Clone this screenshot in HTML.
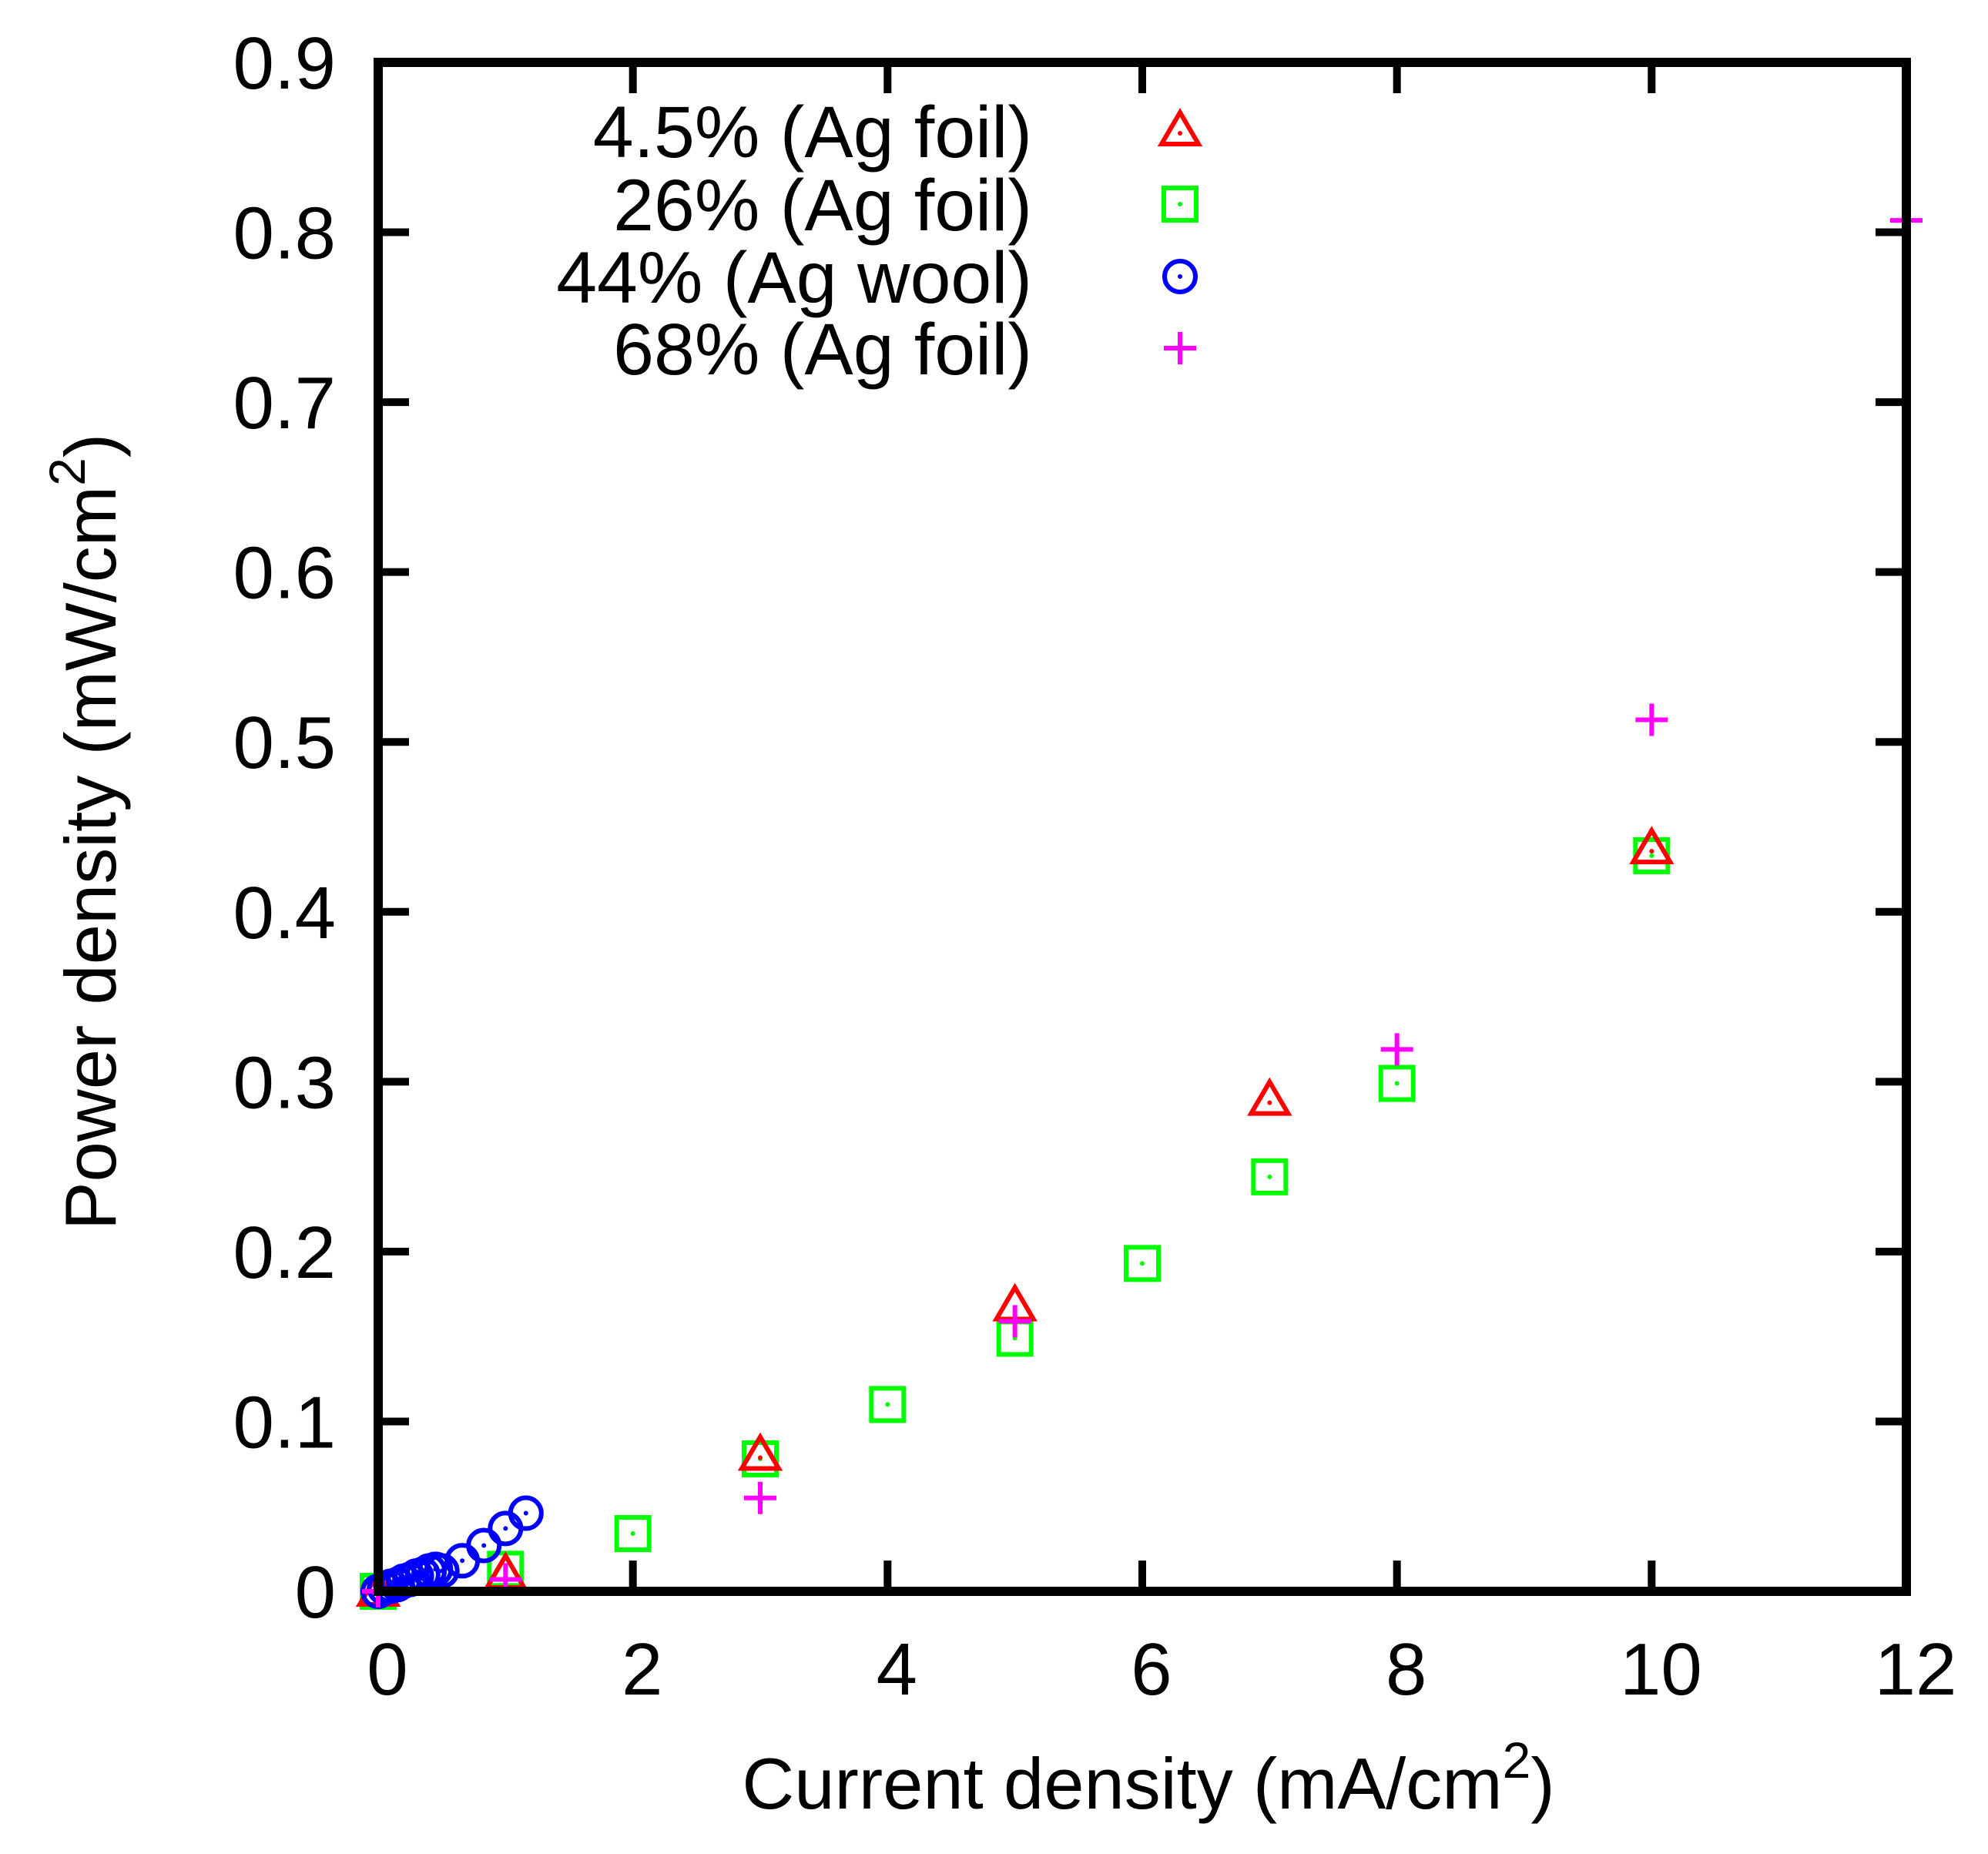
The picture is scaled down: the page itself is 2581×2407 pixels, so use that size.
<!DOCTYPE html>
<html><head><meta charset="utf-8"><style>
html,body{margin:0;padding:0;background:#fff}
svg{display:block}
text{font-family:"Liberation Sans",sans-serif;fill:#000}
</style></head><body>
<svg id="chart" width="2581" height="2407" viewBox="0 0 2581 2407" xmlns="http://www.w3.org/2000/svg">
<g id="ticks"></g>
<g id="marks"></g>
<rect x="491" y="81" width="1984" height="1985" fill="none" stroke="#000" stroke-width="12"/>
<text x="1491" y="2348" font-size="94" text-anchor="middle">Current density (mA/cm<tspan dy="-40" font-size="66">2</tspan><tspan dy="40">)</tspan></text>
<text transform="translate(150,1080) rotate(-90)" font-size="94" text-anchor="middle">Power density (mW/cm<tspan dy="-40" font-size="66">2</tspan><tspan dy="40">)</tspan></text>
<g id="legend"></g>
</svg>
<script>
const xTicks=[0,2,4,6,8,10,12];
const yTicks=[0,0.1,0.2,0.3,0.4,0.5,0.6,0.7,0.8,0.9];
const seriesNames=["4.5% (Ag foil)","26% (Ag foil)","44% (Ag wool)","68% (Ag foil)"];
const redX=[0,1,3,5,7,10];
const redY=[0,0.01,0.08,0.168,0.289,0.437];
const greenX=[0,1,2,3,4,5,6,7,8,10];
const greenY=[0,0.013,0.034,0.078,0.11,0.149,0.193,0.244,0.299,0.433];
const blueX=[0,0.05,0.1,0.15,0.2,0.25,0.3,0.35,0.4,0.45,0.5,0.66,0.83,1.0,1.16];
const blueY=[0,0.002,0.003,0.004,0.006,0.007,0.009,0.01,0.012,0.013,0.012,0.018,0.027,0.037,0.046];
const magX=[0,1,3,5,8,10,12];
const magY=[0,0.007,0.055,0.159,0.319,0.513,0.807];

const NS="http://www.w3.org/2000/svg";
const X0=491,X1=2475,Y0=2066,Y1=81;
function sx(v){return X0+(v-0)/(12-0)*(X1-X0);}
function sy(v){return Y0-(v-0)/(0.9-0)*(Y0-Y1);}
function mk(tag,attrs,parent){const e=document.createElementNS(NS,tag);for(const k in attrs)e.setAttribute(k,attrs[k]);parent.appendChild(e);return e;}
const ticks=document.getElementById('ticks');
xTicks.forEach(v=>{
  const x=sx(v);
  let l=mk('line',{x1:x,y1:Y0,x2:x,y2:Y0-40,stroke:'#000','stroke-width':10},ticks);
  
  
  l=mk('line',{x1:x,y1:Y1,x2:x,y2:Y1+40,stroke:'#000','stroke-width':10},ticks);
  
  
  const t=mk('text',{x:x+12,y:2200,'font-size':96,'text-anchor':'middle'},ticks);
  t.textContent=String(v);
  
  
});
yTicks.forEach(v=>{
  const y=sy(v);
  let l=mk('line',{x1:X0,y1:y,x2:X0+40,y2:y,stroke:'#000','stroke-width':10},ticks);
  
  
  l=mk('line',{x1:X1,y1:y,x2:X1-40,y2:y,stroke:'#000','stroke-width':10},ticks);
  
  
  const t=mk('text',{x:436,y:y+34,'font-size':96,'text-anchor':'end'},ticks);
  t.textContent=v===0?'0':v.toFixed(1);
  
  
});
function dot(g,x,y,c){mk('circle',{cx:x,cy:y,r:3,fill:c},g);}
function drawMarker(kind,x,y,parent){
  const g=mk('g',{},parent);
  if(kind===0){
    mk('polygon',{points:`${x},${y-24} ${x+24},${y+17} ${x-24},${y+17}`,fill:'none',stroke:'#f00','stroke-width':6},g);dot(g,x,y+3,'#f00');
  }else if(kind===1){
    mk('rect',{x:x-21,y:y-21,width:42,height:42,fill:'none',stroke:'#0f0','stroke-width':6},g);dot(g,x,y,'#0f0');
  }else if(kind===2){
    mk('circle',{cx:x,cy:y,r:20,fill:'none',stroke:'#00f','stroke-width':6},g);dot(g,x,y,'#00f');
  }else{
    mk('line',{x1:x-21,y1:y,x2:x+21,y2:y,stroke:'#f0f','stroke-width':6},g);
    mk('line',{x1:x,y1:y-21,x2:x,y2:y+21,stroke:'#f0f','stroke-width':6},g);
  }
  return g;
}
const marks=document.getElementById('marks');
const allX=[redX,greenX,blueX,magX],allY=[redY,greenY,blueY,magY];
const order=[1,0,2,3];
order.forEach(s=>{
  allX[s].forEach((xv,i)=>{
    const g=drawMarker(s,sx(xv),sy(allY[s][i]),marks);
    
    
  });
});
const leg=document.getElementById('legend');
const legY=[170,265,359,452];
seriesNames.forEach((n,i)=>{
  const t=mk('text',{x:1340,y:legY[i]+34,'font-size':95,'text-anchor':'end'},leg);
  t.textContent=n;
  
  
  const g=drawMarker(i,1532,legY[i],leg);
  
  
});
</script>
</body></html>
